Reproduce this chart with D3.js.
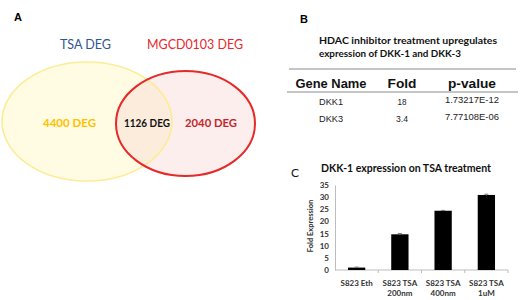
<!DOCTYPE html>
<html><head><meta charset="utf-8">
<script src="https://cdn.jsdelivr.net/npm/d3@7"></script>
<style>body{margin:0;background:#fff}svg{display:block}</style>
</head><body>
<script>
// ---- Data ----
const vennSets = ["TSA DEG", "MGCD0103 DEG"];
const vennCounts = ["4400 DEG", "1126 DEG", "2040 DEG"];
const tableTitle = ["HDAC inhibitor treatment upregulates", "expression of DKK-1 and DKK-3"];
const tableHeader = ["Gene Name", "Fold", "p-value"];
const geneNames = ["DKK1", "DKK3"];
const foldValues = ["18", "3.4"];
const pValues = ["1.73217E-12", "7.77108E-06"];
const barTitle = "DKK-1 expression on TSA treatment";
const barCategories = [["S823 Eth"], ["S823 TSA", "200nm"], ["S823 TSA", "400nm"], ["S823 TSA", "1uM"]];
const barValues = [1.0, 14.7, 24.4, 30.9];
const barErrors = [0.2, 0.3, 0.15, 0.3];
const yTicks = [0, 5, 10, 15, 20, 25, 30, 35];

const W = 521, H = 300;
const svg = d3.select("body").append("svg").attr("width", W).attr("height", H);
const cal = "Lato, 'Open Sans', sans-serif";
const arial = "'Liberation Sans', Arial, sans-serif";

function fitText(sel, width) {
  const n = sel.node(); const l = n.getComputedTextLength();
  if (l > 0) sel.attr("textLength", width).attr("lengthAdjust", "spacingAndGlyphs");
}

// ---- Panel A: Venn ----
const A = svg.append("g");
A.append("text").attr("x", 14).attr("y", 21).text("A")
  .attr("font-family", arial).attr("font-weight", "bold").attr("font-size", 11);
const ell = [
  {cx: 87, cy: 121.5, rx: 85, ry: 59.5, fill: "#FFFCE3", stroke: "#FCEC96", sw: 1.6, op: 1},
  {cx: 185.5, cy: 123.5, rx: 69.5, ry: 52.5, fill: "#F8D6D2", stroke: "#E52A2A", sw: 2, op: 0.42}
];
A.selectAll("ellipse.f").data(ell).join("ellipse").attr("class", "f")
  .attr("cx", d => d.cx).attr("cy", d => d.cy).attr("rx", d => d.rx).attr("ry", d => d.ry)
  .attr("fill", d => d.fill).attr("fill-opacity", d => d.op).attr("stroke", "none");
A.selectAll("ellipse.s").data(ell).join("ellipse").attr("class", "s")
  .attr("cx", d => d.cx).attr("cy", d => d.cy).attr("rx", d => d.rx).attr("ry", d => d.ry)
  .attr("fill", "none").attr("stroke", d => d.stroke).attr("stroke-width", d => d.sw);
const setLab = [
  {t: vennSets[0], x: 60, w: 51, c: "#2E5690"},
  {t: vennSets[1], x: 147, w: 96, c: "#E8262B"}
];
setLab.forEach(d => {
  const t = A.append("text").attr("x", d.x).attr("y", 49).text(d.t)
    .attr("font-family", cal).attr("font-size", 13).attr("fill", d.c);
  fitText(t, d.w);
});
const cntLab = [
  {t: vennCounts[0], x: 43, w: 53, c: "#FFC000"},
  {t: vennCounts[1], x: 124, w: 46, c: "#111"},
  {t: vennCounts[2], x: 185, w: 52, c: "#C0282E"}
];
cntLab.forEach(d => {
  const t = A.append("text").attr("x", d.x).attr("y", 127).text(d.t)
    .attr("font-family", cal).attr("font-weight", "bold").attr("font-size", 12).attr("fill", d.c);
  fitText(t, d.w);
});

// ---- Panel B: table ----
const B = svg.append("g");
B.append("text").attr("x", 300).attr("y", 23).text("B")
  .attr("font-family", arial).attr("font-weight", "bold").attr("font-size", 11);
tableTitle.forEach((s, i) => {
  const t = B.append("text").attr("x", 319).attr("y", 44 + i * 13).text(s)
    .attr("font-family", cal).attr("font-weight", "bold").attr("font-size", 10).attr("fill", "#111");
  fitText(t, i === 0 ? 178 : 142);
});
B.append("line").attr("x1", 289).attr("x2", 516).attr("y1", 69).attr("y2", 69)
  .attr("stroke", "#8a8a8a").attr("stroke-width", 1);
B.append("line").attr("x1", 287).attr("x2", 518).attr("y1", 92).attr("y2", 92)
  .attr("stroke", "#8a8a8a").attr("stroke-width", 1);
const colX = [331, 402, 472];
const hdrW = [71, 29, 48];
tableHeader.forEach((s, i) => {
  const t = B.append("text").attr("x", colX[i]).attr("y", 88).text(s).attr("text-anchor", "middle")
    .attr("font-family", arial).attr("font-weight", "bold").attr("font-size", 13).attr("fill", "#111");
  fitText(t, hdrW[i]);
});
const rows = geneNames.map((g, i) => [g, foldValues[i], pValues[i]]);
const cellW = [[24, 9, 54], [24, 12, 54]];
rows.forEach((r, ri) => {
  r.forEach((s, ci) => {
    const t = B.append("text").attr("x", colX[ci]).attr("y", 105 + ri * 17 - (ci === 2 ? 2 : 0)).text(s)
      .attr("text-anchor", "middle").attr("font-family", arial).attr("font-size", 9).attr("fill", "#222");
    fitText(t, cellW[ri][ci]);
  });
});

// ---- Panel C: bar chart ----
const C = svg.append("g");
C.append("text").attr("x", 291).attr("y", 177).text("C")
  .attr("font-family", cal).attr("font-size", 12).attr("fill", "#111");
const tt = C.append("text").attr("x", 321).attr("y", 172).text(barTitle)
  .attr("font-family", cal).attr("font-weight", "bold").attr("font-size", 11).attr("fill", "#111");
fitText(tt, 170);

const x = d3.scaleBand().domain(d3.range(barValues.length)).range([335, 508])
  .paddingInner(0.6).paddingOuter(0.3);
const y = d3.scaleLinear().domain([0, 35]).range([270, 185]);

// y axis
const yAx = C.append("g").attr("transform", "translate(335,0)")
  .call(d3.axisLeft(y).tickValues(yTicks).tickSize(0).tickPadding(6));
yAx.select(".domain").attr("stroke", "#bdbdbd");
yAx.selectAll("text").attr("font-family", cal).attr("font-weight", "bold").attr("font-size", 8).attr("fill", "#333");

// x axis line and boundary ticks
C.append("line").attr("x1", 335).attr("x2", 508).attr("y1", y(0)).attr("y2", y(0)).attr("stroke", "#bdbdbd");
const bounds = d3.range(1, barValues.length + 1).map(i => 335 + i * x.step());
C.selectAll("line.bt").data(bounds).join("line").attr("class", "bt")
  .attr("x1", d => d).attr("x2", d => d).attr("y1", y(0)).attr("y2", y(0) + 3).attr("stroke", "#bdbdbd");

// bars
C.selectAll("rect.bar").data(barValues).join("rect").attr("class", "bar")
  .attr("x", (d, i) => x(i)).attr("width", x.bandwidth())
  .attr("y", d => y(d)).attr("height", d => y(0) - y(d)).attr("fill", "#000");
// error bars
const eb = C.selectAll("g.eb").data(barValues).join("g").attr("class", "eb");
eb.append("line").attr("x1", (d, i) => x(i) + x.bandwidth() / 2).attr("x2", (d, i) => x(i) + x.bandwidth() / 2)
  .attr("y1", (d, i) => y(d + barErrors[i])).attr("y2", (d, i) => y(d - barErrors[i])).attr("stroke", "#777");
eb.append("line").attr("x1", (d, i) => x(i) + x.bandwidth() / 2 - 2).attr("x2", (d, i) => x(i) + x.bandwidth() / 2 + 2)
  .attr("y1", (d, i) => y(d + barErrors[i])).attr("y2", (d, i) => y(d + barErrors[i])).attr("stroke", "#777");

// category labels
barCategories.forEach((lines, i) => {
  lines.forEach((s, li) => {
    C.append("text").attr("x", x(i) + x.bandwidth() / 2).attr("y", 286 + li * 9.5).text(s)
      .attr("text-anchor", "middle").attr("font-family", cal).attr("font-weight", "bold")
      .attr("font-size", 8).attr("fill", "#333");
  });
});

// y title
C.append("text").attr("transform", "translate(313,226) rotate(-90)").attr("text-anchor", "middle")
  .text("Fold Expression").attr("font-family", cal).attr("font-weight", "bold")
  .attr("font-size", 7.5).attr("fill", "#333");
</script>
</body></html>
